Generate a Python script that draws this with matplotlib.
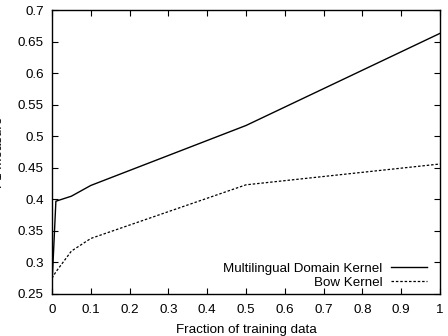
import matplotlib
matplotlib.use('Agg')
import matplotlib.pyplot as plt

fractions_ml = [0.0, 0.01, 0.05, 0.1, 0.5, 1.0]
multilingual = [0.264, 0.397, 0.405, 0.422, 0.517, 0.663]

fractions_bow = [0.0, 0.01, 0.05, 0.1, 0.5, 1.0]
bow = [0.275, 0.285, 0.318, 0.338, 0.423, 0.456]

xticks = [0, 0.1, 0.2, 0.3, 0.4, 0.5, 0.6, 0.7, 0.8, 0.9, 1]
yticks = [0.25, 0.3, 0.35, 0.4, 0.45, 0.5, 0.55, 0.6, 0.65, 0.7]

plt.rcParams['font.family'] = ['Liberation Sans', 'DejaVu Sans']
plt.rcParams['font.size'] = 9.6

fig = plt.figure(figsize=(4.48, 3.36), dpi=100)
ax = fig.add_axes([52 / 448, 42 / 336, 388 / 448, 284 / 336])

ax.plot(fractions_ml, multilingual, color='black', lw=1.0,
        label='Multilingual Domain Kernel')
ax.plot(fractions_bow, bow, color='black', lw=0.9, dashes=(2, 1.5),
        label='Bow Kernel')

ax.set_xlim(0, 1)
ax.set_ylim(0.25, 0.7)
ax.set_xticks(xticks)
ax.set_xticklabels(['%g' % t for t in xticks])
ax.set_yticks(yticks)
ax.set_yticklabels(['%g' % t for t in yticks])
ax.tick_params(direction='in', top=True, right=True, length=4.5, width=0.8)
ax.tick_params(axis='x', pad=7)
ax.tick_params(axis='y', pad=6)
for s in ax.spines.values():
    s.set_linewidth(1.0)

ax.set_xlabel('Fraction of training data', labelpad=6)
ax.set_ylabel('F1 measure')
ax.yaxis.set_label_coords(-0.122, 0.5)

ax.legend(loc='lower right', bbox_to_anchor=(0.979, 0.0), frameon=False,
          markerfirst=False, handlelength=2.7, handletextpad=0.6,
          labelspacing=0.1, borderaxespad=0.0)

fig.savefig('out.png', dpi=100)
